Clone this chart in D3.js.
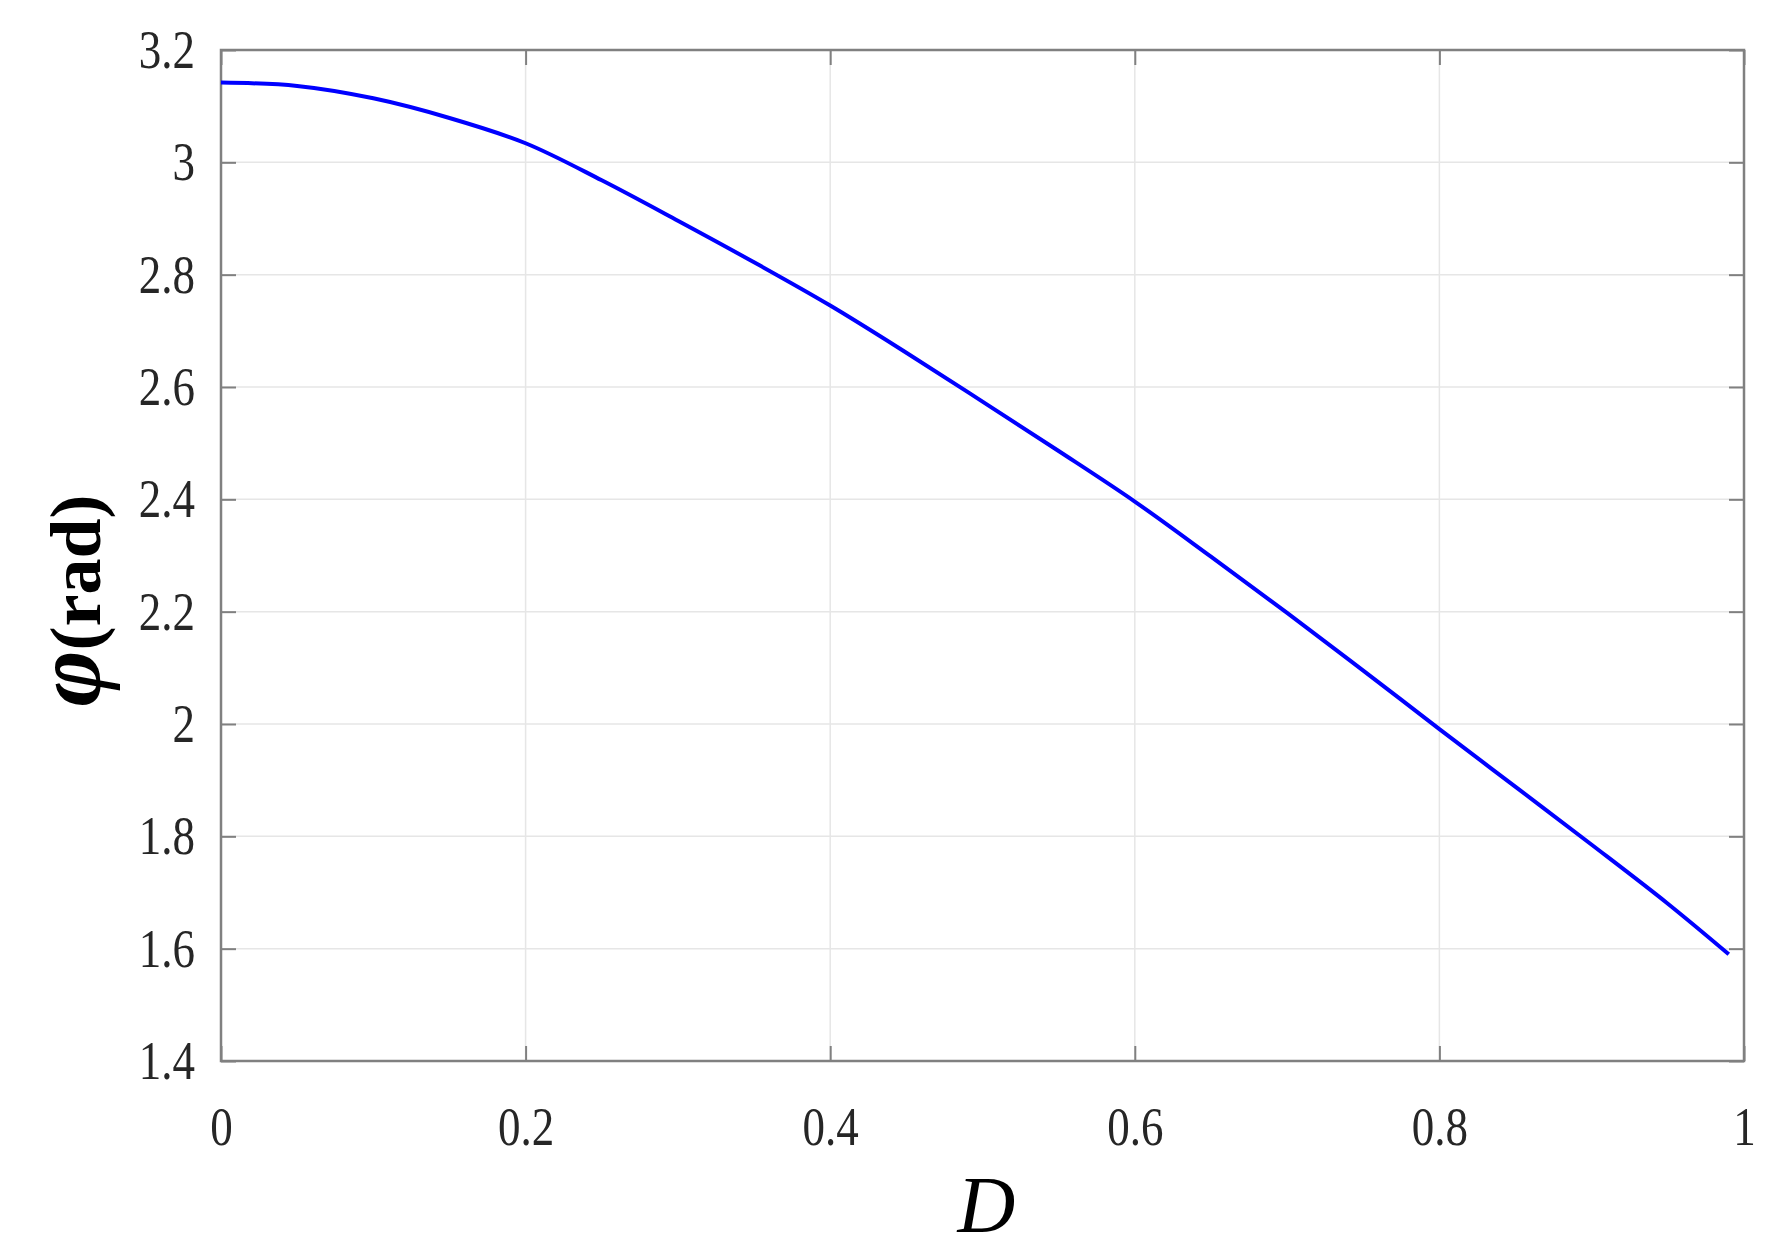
<!DOCTYPE html>
<html><head><meta charset="utf-8">
<script src="https://cdn.jsdelivr.net/npm/d3@7"></script>
<style>body{margin:0;background:#fff}</style>
</head><body><div id="chart"></div>
<script>
// data
var dValues   = [0, 0.05, 0.1, 0.15, 0.2, 0.25, 0.3, 0.35, 0.4, 0.45, 0.5, 0.55, 0.6, 0.65, 0.7, 0.75, 0.8, 0.85, 0.9, 0.95, 0.99];
var phiValues = [3.142, 3.136, 3.114, 3.079, 3.034, 2.968, 2.896, 2.822, 2.745, 2.661, 2.574, 2.486, 2.396, 2.298, 2.198, 2.095, 1.991, 1.888, 1.785, 1.680, 1.590];
var xTicks = [0, 0.2, 0.4, 0.6, 0.8, 1];
var yTicks = [1.4, 1.6, 1.8, 2, 2.2, 2.4, 2.6, 2.8, 3, 3.2];

var W = 1785, H = 1255;
var L = 221, R = 1744, T = 50, B = 1061;
var serif = "Liberation Serif, Times New Roman, serif";

var svg = d3.select("#chart").append("svg").attr("width", W).attr("height", H);

var x = d3.scaleLinear().domain([0, 1]).range([L, R]);
var y = d3.scaleLinear().domain([1.4, 3.2]).range([B, T]);

// grid
svg.append("g").selectAll("line").data(xTicks).join("line")
  .attr("x1", d => x(d)).attr("x2", d => x(d)).attr("y1", T).attr("y2", B)
  .attr("stroke", "#e6e6e6").attr("stroke-width", 1.5);
svg.append("g").selectAll("line").data(yTicks).join("line")
  .attr("y1", d => y(d)).attr("y2", d => y(d)).attr("x1", L).attr("x2", R)
  .attr("stroke", "#e6e6e6").attr("stroke-width", 1.5);

function styleAxis(g) {
  g.select(".domain").remove();
  g.selectAll(".tick line").attr("stroke", "#808080").attr("stroke-width", 2);
  g.selectAll("text").attr("font-family", serif)
    .attr("font-size", 50).attr("fill", "#262626")
    .attr("transform", "scale(0.9,1.1)")
    .attr("x", function() { return +d3.select(this).attr("x") / 0.9; })
    .attr("y", function() { return +d3.select(this).attr("y") / 1.1; });
}

svg.append("g").attr("transform", "translate(0," + B + ")")
  .call(d3.axisBottom(x).tickValues(xTicks).tickFormat(d3.format("")).tickSizeInner(-15).tickPadding(45))
  .call(styleAxis);
svg.append("g").attr("transform", "translate(" + L + ",0)")
  .call(d3.axisLeft(y).tickValues(yTicks).tickFormat(d3.format("")).tickSizeInner(-15).tickPadding(26))
  .call(styleAxis);
svg.append("g").attr("transform", "translate(0," + T + ")")
  .call(d3.axisTop(x).tickValues(xTicks).tickFormat("").tickSizeInner(-15))
  .call(styleAxis);
svg.append("g").attr("transform", "translate(" + R + ",0)")
  .call(d3.axisRight(y).tickValues(yTicks).tickFormat("").tickSizeInner(-15))
  .call(styleAxis);

// frame
svg.append("rect").attr("x", L).attr("y", T).attr("width", R - L).attr("height", B - T)
  .attr("fill", "none").attr("stroke", "#808080").attr("stroke-width", 2.5);

// curve
var pts = dValues.map((d, i) => [d, phiValues[i]]);
svg.append("path").datum(pts)
  .attr("d", d3.line().x(d => x(d[0])).y(d => y(d[1])).curve(d3.curveCatmullRom))
  .attr("fill", "none").attr("stroke", "#0000ff").attr("stroke-width", 4);

// labels
svg.append("text").attr("x", (L + R) / 2 + 4).attr("y", 1232).attr("text-anchor", "middle")
  .attr("font-family", serif).attr("font-style", "italic")
  .attr("font-size", 80).attr("fill", "#000").text("D");
svg.append("text").attr("transform", "translate(100," + ((T + B) / 2 + 45) + ") rotate(-90)")
  .attr("text-anchor", "middle")
  .attr("font-family", serif).attr("font-weight", "bold")
  .attr("font-size", 72).attr("fill", "#000")
  .call(t => {
    t.append("tspan").attr("font-style", "italic").attr("font-size", 96).text("φ");
    t.append("tspan").text("(rad)");
  });
</script>
</body></html>
